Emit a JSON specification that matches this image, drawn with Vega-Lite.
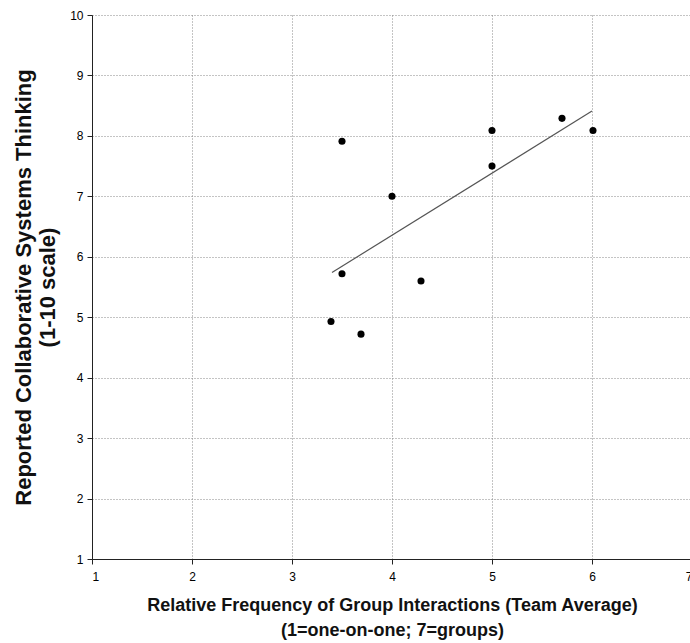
{
  "$schema": "https://vega.github.io/schema/vega-lite/v6.json",
  "autosize": "none",
  "width": 600,
  "height": 544,
  "padding": {"left": 92, "top": 15, "right": 0, "bottom": 84},
  "background": "white",
  "config": {
    "view": {"stroke": null},
    "font": "Liberation Sans",
    "axis": {
      "labelFont": "Liberation Sans",
      "labelFontSize": 12,
      "labelColor": "#000",
      "titleFont": "Liberation Sans",
      "titleFontWeight": "bold",
      "titleColor": "#111",
      "domainColor": "#222",
      "domainWidth": 1,
      "tickColor": "#222",
      "tickSize": 5,
      "gridColor": "#888",
      "gridDash": [1, 2],
      "gridWidth": 1
    }
  },
  "datasets": {
    "pts": [
      {"x": 3.39, "y": 4.93},
      {"x": 3.5, "y": 7.91},
      {"x": 3.5, "y": 5.72},
      {"x": 3.69, "y": 4.72},
      {"x": 4.0, "y": 7.0},
      {"x": 4.29, "y": 5.6},
      {"x": 5.0, "y": 8.09},
      {"x": 5.0, "y": 7.5},
      {"x": 5.7, "y": 8.29},
      {"x": 6.01, "y": 8.09}
    ],
    "fit": [
      {"x": 3.4, "y": 5.74},
      {"x": 6.0, "y": 8.41}
    ]
  },
  "layer": [
    {
      "data": {"name": "pts"},
      "mark": {"type": "point", "filled": true, "color": "#000", "size": 50, "opacity": 1},
      "encoding": {
        "x": {
          "field": "x", "type": "quantitative",
          "scale": {"domain": [1, 7], "nice": false, "zero": false},
          "axis": {
            "values": [1, 2, 3, 4, 5, 6, 7],
            "format": "d",
            "labelPadding": 7,
            "titlePadding": 14,
            "titleFontSize": 18,
            "title": ["Relative Frequency of Group Interactions (Team Average)", "(1=one-on-one;  7=groups)"],
            "titleLineHeight": 25
          }
        },
        "y": {
          "field": "y", "type": "quantitative",
          "scale": {"domain": [1, 10], "nice": false, "zero": false},
          "axis": {
            "values": [1, 2, 3, 4, 5, 6, 7, 8, 9, 10],
            "format": "d",
            "labelPadding": 4,
            "titlePadding": 10,
            "titleFontSize": 22,
            "title": ["Reported Collaborative Systems Thinking", "(1-10 scale)"],
            "titleLineHeight": 24
          }
        }
      }
    },
    {
      "data": {"name": "fit"},
      "mark": {"type": "line", "color": "#555", "strokeWidth": 1.2},
      "encoding": {
        "x": {"field": "x", "type": "quantitative"},
        "y": {"field": "y", "type": "quantitative"}
      }
    }
  ]
}
